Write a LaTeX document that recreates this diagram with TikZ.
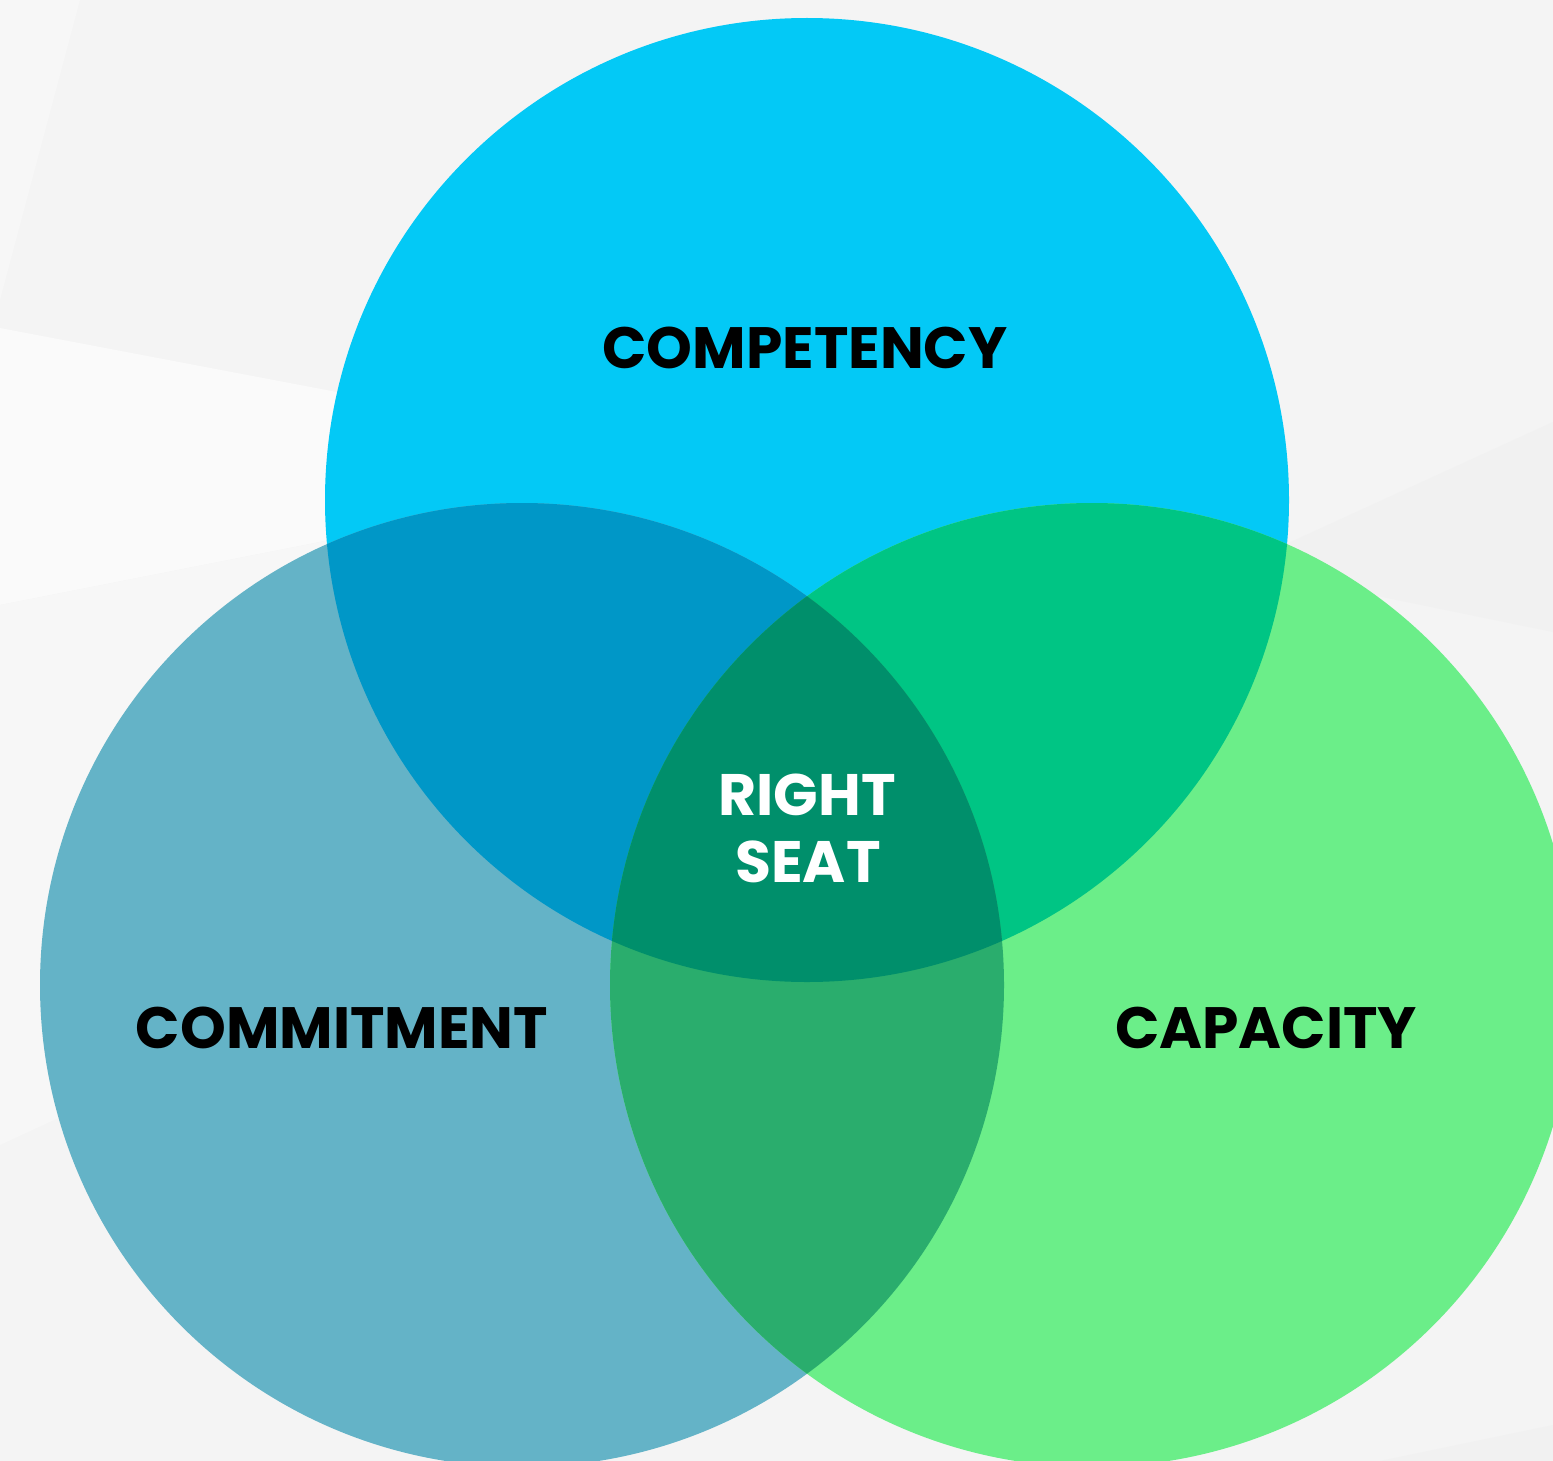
\documentclass[tikz,border=0pt]{standalone}
\usepackage{fontspec}
\setmainfont{Poppins}
\definecolor{bgbase}{HTML}{F4F4F4}
\definecolor{bglight}{HTML}{F7F7F7}
\definecolor{bglighter}{HTML}{FAFAFA}
\definecolor{bgdark}{HTML}{F1F1F1}
\definecolor{ctop}{HTML}{03C9F6}
\definecolor{cleft}{HTML}{64B3C7}
\definecolor{cright}{HTML}{6BEE89}
\definecolor{ctl}{HTML}{0097C7}
\definecolor{ctr}{HTML}{00C584}
\definecolor{clr}{HTML}{2AAD6D}
\definecolor{ccenter}{HTML}{008F6B}
\tikzset{
  lbl/.style={font=\fontsize{58.3}{67}\selectfont\bfseries, text=black, inner sep=0pt, anchor=base},
  lblw/.style={font=\fontsize{58.5}{67}\selectfont\bfseries, text=white, inner sep=0pt, align=center},
}
\begin{document}
\begin{tikzpicture}[x=1pt,y=-1pt]
\useasboundingbox (0,0) rectangle (1553,1461);
% background
\fill[bgbase] (0,0) rectangle (1553,1461);
\fill[bglight] (0,0) -- (80,0) -- (0,300) -- cycle;
\fill[bglighter] (0,328) -- (716,464) -- (0,605) -- cycle;
\fill[bglight] (0,605) -- (716,464) -- (530,900) -- (0,1145) -- cycle;
\fill[bgdark] (1553,422) -- (1236,567) -- (1553,632) -- cycle;
\fill[bgdark] (1553,1425) -- (1380,1461) -- (1553,1461) -- cycle;
% circle centres
\coordinate (cT) at (807,500);
\coordinate (cL) at (522,985);
\coordinate (cR) at (1092,985);
% base circles
\fill[ctop] (cT) circle[radius=482pt];
\fill[cleft] (cL) circle[radius=482pt];
\fill[cright] (cR) circle[radius=482pt];
% pairwise overlaps
\begin{scope}
  \clip (cT) circle[radius=482pt];
  \fill[ctl] (cL) circle[radius=482pt];
  \fill[ctr] (cR) circle[radius=482pt];
\end{scope}
\begin{scope}
  \clip (cL) circle[radius=482pt];
  \fill[clr] (cR) circle[radius=482pt];
  \clip (cR) circle[radius=482pt];
  \fill[ccenter] (cT) circle[radius=482pt];
\end{scope}
% labels
\node[lbl] (competency) at (805,368) {COMPETENCY};
\node[lbl] (commitment) at (342,1048) {COMMITMENT};
\node[lbl] (capacity) at (1266,1048) {CAPACITY};
\node[lblw, anchor=base] (right) at (807,815) {RIGHT};
\node[lblw, anchor=base] (seat) at (808,882) {SEAT};
\end{tikzpicture}
\end{document}
